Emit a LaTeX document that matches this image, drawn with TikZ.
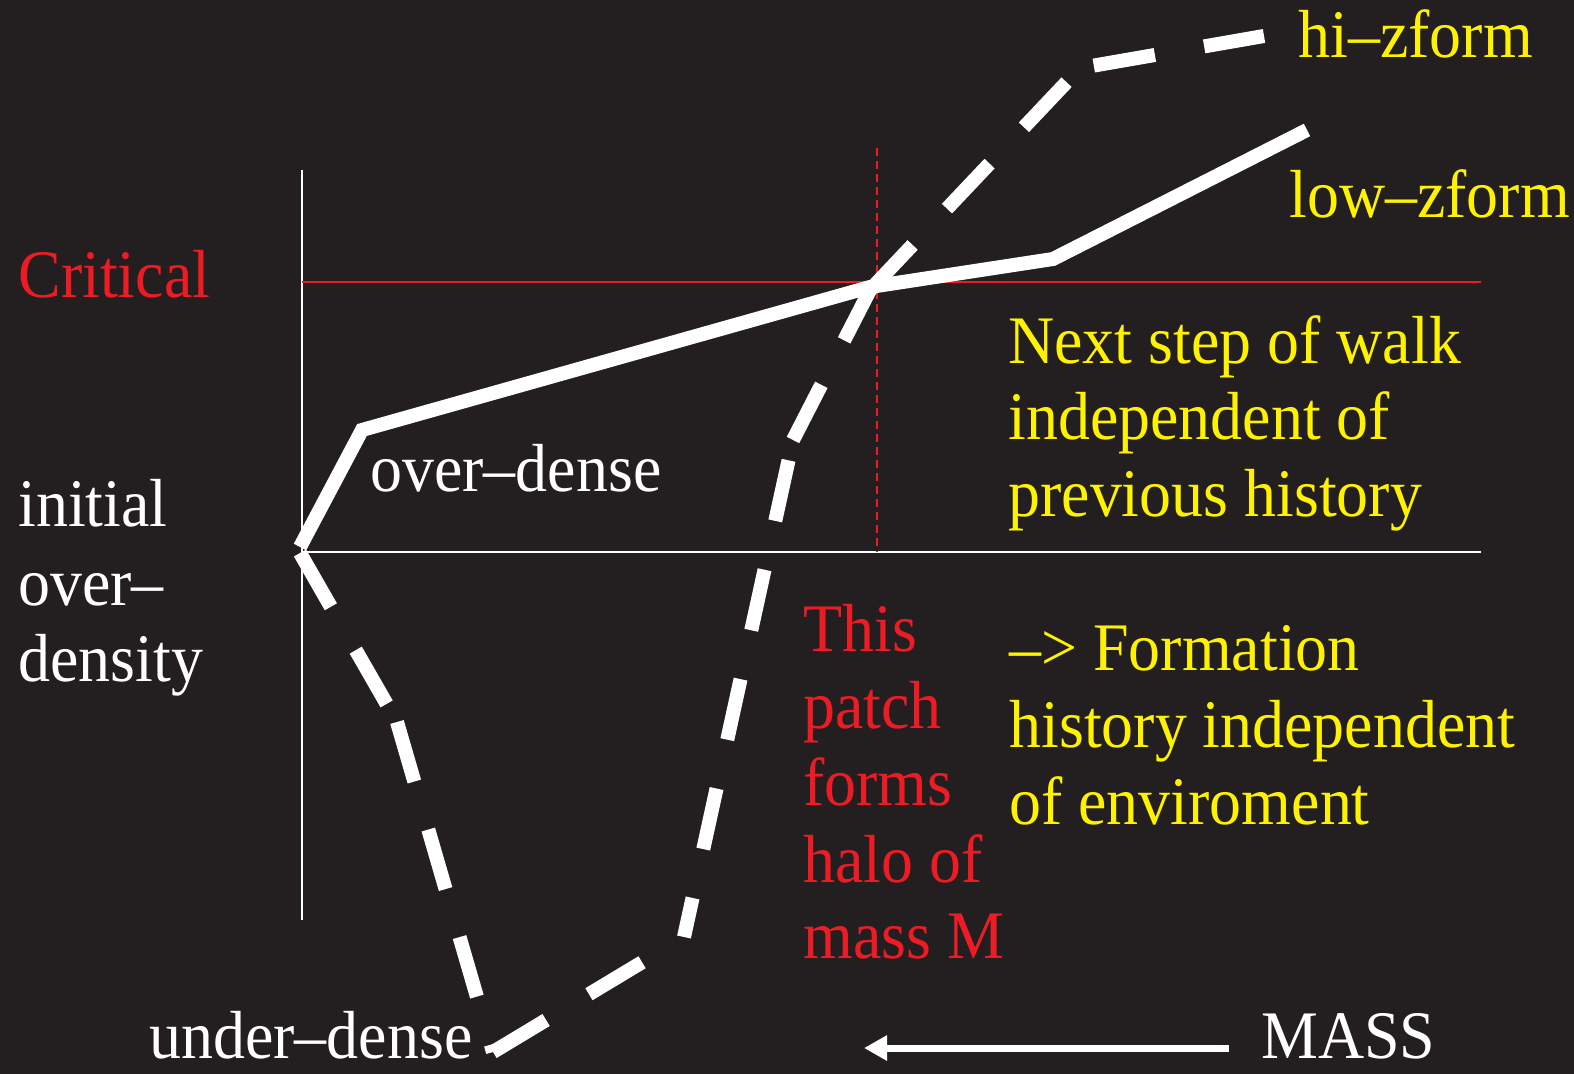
\documentclass[tikz,border=0pt]{standalone}
\usepackage{fontspec}
\setmainfont[FakeStretch=0.94]{Liberation Serif}
\usetikzlibrary{arrows.meta}

\definecolor{bg}{RGB}{35,31,32}
\definecolor{critred}{RGB}{237,28,36}
\definecolor{noteyellow}{RGB}{255,242,0}

\begin{document}
\begin{tikzpicture}[x=0.5pt,y=-0.5pt,
  lbl/.style={anchor=base west, inner sep=0pt, font=\fontsize{34}{38}\selectfont},
  walk/.style={white, line width=7pt, line join=miter},
  walkdash/.style={white, line width=7pt, dash pattern=on 31pt off 25pt},
  axisline/.style={white, line width=1pt},
  critline/.style={critred, line width=0.9pt},
  massline/.style={critred, line width=1pt, dash pattern=on 4pt off 2.5pt},
  massarrow/.style={white, line width=3.5pt, -{Triangle[length=11.5pt,width=12pt]}}]

% background and page frame
\fill[bg] (0,0) rectangle (1574,1074);
\useasboundingbox (0,0) rectangle (1574,1074);

% axes and reference lines
\coordinate (axtop) at (302,170);
\coordinate (axbot) at (302,920);
\coordinate (zeroL) at (302,552);
\coordinate (zeroR) at (1481,552);
\coordinate (critL) at (302,282);
\coordinate (critR) at (1481,282);
\coordinate (mtop) at (877,148);
\coordinate (mbot) at (877,552);
\draw[axisline] (axtop) -- (axbot);
\draw[axisline] (zeroL) -- (zeroR);
\draw[critline] (critL) -- (critR);
\draw[massline] (mtop) -- (mbot);

% low-z forming walk (solid)
\coordinate (s0) at (300,547);
\coordinate (s1) at (362,430);
\coordinate (s2) at (870,287);
\coordinate (s3) at (1053,259);
\coordinate (s4) at (1307,130);
\draw[walk] (s0) -- (s1) -- (s2) -- (s3) -- (s4);

% high-z forming walk (dashed, one stroke per step)
\coordinate (d0) at (300,553);
\coordinate (d1) at (397,722);
\coordinate (d2) at (493,1052);
\coordinate (d3) at (684,937);
\coordinate (d4) at (793,440);
\coordinate (d5) at (870,290);
\coordinate (d6) at (1080,68);
\coordinate (d7) at (1264,36);
\draw[walkdash] (d0) -- (d1);
\draw[walkdash] (d1) -- (d2);
\draw[walkdash] (d2) -- (d3);
\draw[walkdash, dash phase=11pt] (d3) -- (d4);
\draw[walkdash] (d4) -- (d5);
\draw[walkdash] (d5) -- (d6);
\draw[walkdash, dash phase=49pt] (d6) -- (d7);

% mass axis arrow
\coordinate (arrtail) at (1229,1048);
\coordinate (arrhead) at (864,1048);
\draw[massarrow] (arrtail) -- (arrhead);

% labels
\node[lbl, text=critred] (critical) at (18,298) {Critical};
\node[lbl, text=white] (init1) at (18,527) {initial};
\node[lbl, text=white] (init2) at (18,605) {over--};
\node[lbl, text=white] (init3) at (18,682) {density};
\node[lbl, text=white] (overdense) at (370,492) {over--dense};
\node[lbl, text=white] (underdense) at (149,1058) {under--dense};
\node[lbl, text=white] (mass) at (1261,1058) {MASS};

\node[lbl, text=noteyellow] (hiz) at (1298,58) {hi--zform};
\node[lbl, text=noteyellow] (lowz) at (1289,218) {low--zform};

\node[lbl, text=noteyellow] (next1) at (1008,364) {Next step of walk};
\node[lbl, text=noteyellow] (next2) at (1008,440) {independent of};
\node[lbl, text=noteyellow] (next3) at (1008,517) {previous history};

\node[lbl, text=critred] (patch1) at (803,652) {This};
\node[lbl, text=critred] (patch2) at (803,728) {patch};
\node[lbl, text=critred] (patch3) at (803,805) {forms};
\node[lbl, text=critred] (patch4) at (803,882) {halo of};
\node[lbl, text=critred] (patch5) at (803,958) {mass M};

\node[lbl, text=noteyellow] (form1) at (1009,670) {-->~Formation};
\node[lbl, text=noteyellow] (form2) at (1009,747) {history independent};
\node[lbl, text=noteyellow] (form3) at (1009,824) {of enviroment};
\end{tikzpicture}
\end{document}
